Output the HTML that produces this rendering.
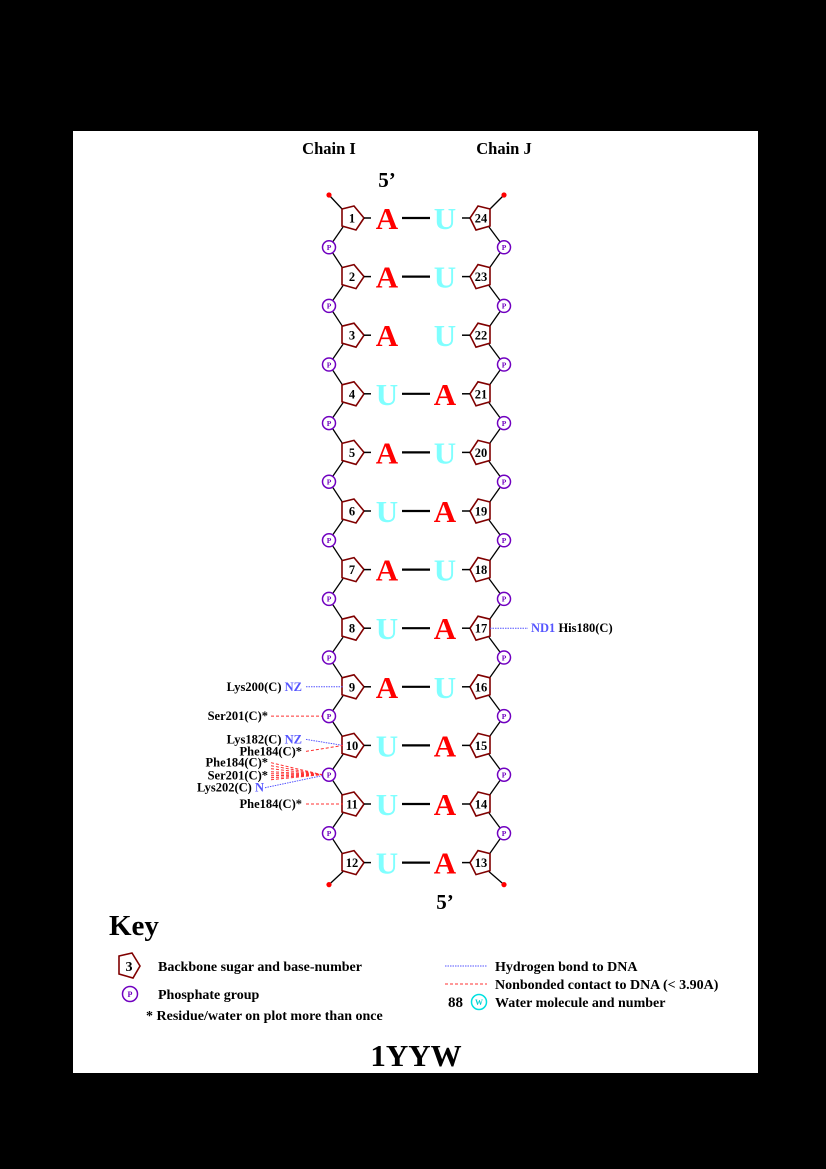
<!DOCTYPE html>
<html><head><meta charset="utf-8"><style>
html,body{margin:0;padding:0;background:#000;}
svg{display:block;font-family:"Liberation Serif",serif;font-weight:bold;}
</style></head><body>
<svg id="plot" width="826" height="1169" viewBox="0 0 826 1169" xmlns="http://www.w3.org/2000/svg">
<rect x="0" y="0" width="826" height="1169" fill="#000"/>
<rect x="73" y="131" width="685" height="942" fill="#fff"/>
<text x="329" y="154" font-size="16.5" text-anchor="middle">Chain I</text>
<text x="504" y="154" font-size="16.5" text-anchor="middle">Chain J</text>
<text x="387" y="187" font-size="21" text-anchor="middle">5’</text>
<text x="445" y="909" font-size="21" text-anchor="middle">5’</text>
<g id="strands"></g>
<g id="contacts"></g>
<g>
<text x="109" y="935" font-size="29">Key</text>
<polygon points="119,956 132,953 140,966 133,978 119,974" fill="#fff" stroke="#800000" stroke-width="1.6"/>
<text x="129" y="971" font-size="14" text-anchor="middle">3</text>
<text x="158" y="971" font-size="14">Backbone sugar and base-number</text>
<circle cx="130" cy="994" r="7.5" fill="#fff" stroke="#7000c0" stroke-width="1.5"/>
<text x="130" y="997" font-size="8" fill="#7000c0" text-anchor="middle">P</text>
<text x="158" y="999" font-size="14">Phosphate group</text>
<text x="146" y="1020" font-size="14">* Residue/water on plot more than once</text>
<line x1="445" y1="966" x2="487" y2="966" stroke="#5555ff" stroke-width="1" stroke-dasharray="1.5,1"/>
<text x="495" y="971" font-size="14">Hydrogen bond to DNA</text>
<line x1="445" y1="984" x2="487" y2="984" stroke="#ff3030" stroke-width="1" stroke-dasharray="3,2"/>
<text x="495" y="989" font-size="14">Nonbonded contact to DNA (&lt; 3.90A)</text>
<text x="448" y="1007" font-size="15">88</text>
<circle cx="479" cy="1002" r="7.5" fill="#fff" stroke="#00e0e0" stroke-width="1.5"/>
<text x="479" y="1005" font-size="8" fill="#00d0d0" text-anchor="middle">W</text>
<text x="495" y="1007" font-size="14">Water molecule and number</text>
</g>
<text x="416" y="1066" font-size="31" text-anchor="middle">1YYW</text>
</svg>
<script>
const leftBases = ['A','A','A','U','A','U','A','U','A','U','U','U'];
const rightBases = ['U','U','U','A','U','A','U','A','U','A','A','A'];
const leftNums = [1,2,3,4,5,6,7,8,9,10,11,12];
const rightNums = [24,23,22,21,20,19,18,17,16,15,14,13];
const paired = [true,true,false,true,true,true,true,true,true,true,true,true];

const NS='http://www.w3.org/2000/svg';
const y0=218, step=58.6, LX=351, RX=481, LP=329, RP=504;
const rowY=i=>y0+i*step;
const baseColor=b=>b==='A'?'#ff0000':'#80ffff';
function mk(tag,attrs,parent){const e=document.createElementNS(NS,tag);for(const k in attrs)e.setAttribute(k,attrs[k]);parent.appendChild(e);return e;}
const g=document.getElementById('strands');

for(let i=0;i<leftBases.length;i++){
  const y=rowY(i);
  let l=mk('line',{x1:LP,y1:(i===0?y-23:y-29.3+0),x2:343,y2:y-8,stroke:'#000','stroke-width':1.3},g);
  
  
  l=mk('line',{x1:343,y1:y+9,x2:LP,y2:(i===leftBases.length-1?y+22:y+29.3),stroke:'#000','stroke-width':1.3},g);
  
  
  l=mk('line',{x1:RP,y1:(i===0?y-23:y-29.3),x2:489,y2:y-8,stroke:'#000','stroke-width':1.3},g);
  
  
  l=mk('line',{x1:489,y1:y+9,x2:RP,y2:(i===leftBases.length-1?y+22:y+29.3),stroke:'#000','stroke-width':1.3},g);
  
  
}
[[LP,rowY(0)-23],[RP,rowY(0)-23],[LP,rowY(11)+22],[RP,rowY(11)+22]].forEach(p=>{
  const c=mk('circle',{cx:p[0],cy:p[1],r:2.6,fill:'#ff0000'},g);
  
  
});
for(let i=0;i<leftBases.length-1;i++){
  const y=rowY(i)+step/2;
  [LP,RP].forEach(x=>{
    const c=mk('circle',{cx:x,cy:y,r:6.5,fill:'#fff',stroke:'#7000c0','stroke-width':1.5},g);
    
    
    const t=mk('text',{x:x,y:y+2.8,'font-size':7.5,fill:'#7000c0','text-anchor':'middle'},g);
    t.textContent='P';
    
    
  });
}
for(let i=0;i<leftBases.length;i++){
  const y=rowY(i);
  let p=mk('polygon',{points:`342,${y-9} 354,${y-12} 364,${y} 356,${y+12} 342,${y+8}`,fill:'#fff',stroke:'#800000','stroke-width':1.6},g);
  
  
  let t=mk('text',{x:352,y:y+4.5,'font-size':12.5,'text-anchor':'middle'},g);
  t.textContent=leftNums[i];
  
  
  p=mk('polygon',{points:`490,${y-9} 478,${y-12} 470,${y} 476,${y+12} 490,${y+8}`,fill:'#fff',stroke:'#800000','stroke-width':1.6},g);
  
  
  t=mk('text',{x:481,y:y+4.5,'font-size':12.5,'text-anchor':'middle'},g);
  t.textContent=rightNums[i];
  
  
  let s=mk('line',{x1:364,y1:y,x2:371,y2:y,stroke:'#000','stroke-width':1.5},g);
  
  
  s=mk('line',{x1:462,y1:y,x2:470,y2:y,stroke:'#000','stroke-width':1.5},g);
  
  
  t=mk('text',{x:387,y:y+11,'font-size':31,'text-anchor':'middle',fill:baseColor(leftBases[i])},g);
  t.textContent=leftBases[i];
  
  
  t=mk('text',{x:445,y:y+11,'font-size':31,'text-anchor':'middle',fill:baseColor(rightBases[i])},g);
  t.textContent=rightBases[i];
  
  
  if(paired[i]){
    s=mk('line',{x1:402,y1:y,x2:430,y2:y,stroke:'#000','stroke-width':2.2},g);
    
    
  }
}
const cg=document.getElementById('contacts');
function line(x1,y1,x2,y2,type,name){
  const l=mk('line',{x1,y1,x2,y2,stroke:type==='h'?'#5555ff':'#ff3030','stroke-width':1,'stroke-dasharray':type==='h'?'1.5,1':'3,2'},cg);
  
  
}
function label(x,y,res,atom,anchor,name){
  const t=mk('text',{x,y:y+4,'font-size':12.5,'text-anchor':anchor},cg);
  
  
  if(anchor==='start'){
    if(atom){const a=mk('tspan',{fill:'#5555ff'},t);a.textContent=atom+' ';}
    const r=mk('tspan',{fill:'#000'},t);r.textContent=res;
  } else {
    const r=mk('tspan',{fill:'#000'},t);r.textContent=res;
    if(atom){const a=mk('tspan',{fill:'#5555ff'},t);a.textContent=' '+atom;}
  }
}
const y8=rowY(7),y9=rowY(8),y10=rowY(9),y11=rowY(10);
const p9=y9+step/2,p10=y10+step/2;
line(490,y8,528,y8,'h','hbond-his180');
label(531,y8,'His180(C)','ND1','start','his180-label');
line(306,y9,343,y9,'h','hbond-lys200');
label(302,y9,'Lys200(C)','NZ','end','lys200-label');
line(271,p9,322,p9,'n','contact-ser201-a');
label(268,p9,'Ser201(C)*','','end','ser201-label-a');
line(306,y10-6,343,y10,'h','hbond-lys182');
label(302,y10-6,'Lys182(C)','NZ','end','lys182-label');
line(306,y10+6,343,y10,'n','contact-phe184-a');
label(302,y10+6,'Phe184(C)*','','end','phe184-label-a');
[-12,-9,-6,-3].forEach(d=>line(271,p10+d,322,p10,'n','contact-phe184-b'));
[-1,1,3,5].forEach(d=>line(271,p10+d,322,p10,'n','contact-ser201-b'));
label(268,p10-12,'Phe184(C)*','','end','phe184-label-b');
label(268,p10+1,'Ser201(C)*','','end','ser201-label-b');
line(265,p10+13,322,p10+1,'h','hbond-lys202');
label(264,p10+13,'Lys202(C)','N','end','lys202-label');
line(306,y11,343,y11,'n','contact-phe184-c');
label(302,y11,'Phe184(C)*','','end','phe184-label-c');
</script>
</body></html>
